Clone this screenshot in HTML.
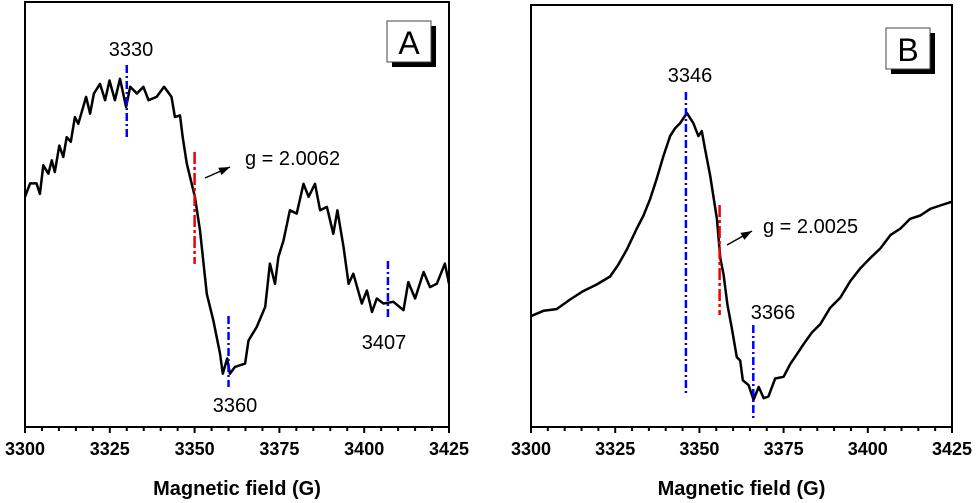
<!DOCTYPE html>
<html><head><meta charset="utf-8"><style>
body{margin:0;background:#fff;width:979px;height:503px;overflow:hidden}
svg{display:block;font-family:"Liberation Sans",Arial,sans-serif}
</style></head><body>
<svg id="c" width="979" height="503" xmlns="http://www.w3.org/2000/svg"></svg>
<script>
const ticksX=[3300,3325,3350,3375,3400,3425];
const fieldA=[3300,3301.5,3303.4,3304.4,3305.4,3306.9,3307.9,3308.8,3310.1,3311.3,3312.3,3313.5,3314.7,3315.7,3318,3319.2,3320.3,3322.1,3323.6,3324.9,3326.5,3328,3329.8,3331,3333,3334.9,3336.4,3338.8,3341,3343.2,3344.2,3345.7,3346.5,3347.7,3350.1,3351.6,3353.6,3355.5,3357.5,3358.3,3359.6,3360.4,3361.9,3364.9,3365.9,3368.3,3370.8,3372.2,3373.7,3374.7,3376.2,3378.1,3380.1,3382.1,3383.6,3385.5,3387,3389,3390.9,3392.1,3393.9,3395.4,3396.8,3399.3,3400.8,3402.3,3403.7,3405.7,3408.6,3411.6,3413,3415,3417.5,3419.4,3421.4,3423.8,3425];
const signalA=[54.8,58,58,55.5,62.3,60.3,63.5,60.7,67,64.3,69,67.9,73.8,72.2,78.6,74.6,79.4,81.7,77.8,82.5,77.8,82.9,76.2,81,79.4,81,77.8,78.6,81,78.6,73.8,74.2,69,62.7,54.8,46.8,31.7,25.4,17.5,12.7,16.3,12.7,14.3,15.1,20.6,23.8,28.6,38.9,34.1,40.5,44.4,51.6,50.8,57.9,54.8,57.9,51.6,52.4,46,51.6,42.9,34.1,36.5,29.4,32.5,27.4,30.6,29.4,29.8,27.8,34.5,30.6,36.9,33.3,34.1,38.9,34.1];
const fieldB=[3300.2,3303.7,3307.6,3311.6,3315.5,3319.5,3323.5,3325.9,3328.4,3331.4,3333.4,3335.4,3337.3,3339.3,3341.3,3342.8,3344.3,3346.3,3348.2,3349.7,3350.7,3351.7,3353.2,3355.2,3356.2,3357.2,3358.3,3359.6,3361.1,3362.1,3362.9,3364.6,3366.1,3367.6,3369.1,3370.5,3372.5,3375,3377,3379,3381,3383.4,3385.9,3388.8,3391.8,3394.8,3397.8,3400.7,3403.7,3406.7,3409.7,3412.6,3415.6,3418.6,3421.5,3425];
const signalB=[26.6,27.8,28.2,30.5,32.5,34.1,36,38.8,42.4,47.5,50.6,54.6,59.3,64.8,69.6,71.5,72.7,75.1,72.7,69.6,70.8,66.4,60.1,49.8,40.4,36.4,29.3,23.8,16.7,15.9,11.2,10,6.5,9.6,6.9,7.3,11.6,12,15.1,17.5,19.9,22.6,24.6,28.5,30.9,34.9,38,40.4,42.7,45.9,47.5,49.8,50.6,52.2,53,53.9];
const NS="http://www.w3.org/2000/svg";
const svg=document.getElementById('c');
function mk(t,a,p){const e=document.createElementNS(NS,t);for(const k in a)e.setAttribute(k,a[k]);(p||svg).appendChild(e);return e;}
function panel(P){
  const g=mk('g',{});
  
  
  const sx=f=>P.x0+(f-3300)/125*(P.x1-P.x0);
  const sy=v=>P.yb-v/100*(P.yb-P.yt);
  const fr=mk('rect',{x:P.x0,y:P.yt0,width:P.x1-P.x0,height:P.yb-P.yt0,fill:'none',stroke:'#000','stroke-width':2},g);
  
  
  for(let f=3300;f<=3425;f+=5){
    const maj=ticksX.includes(f);
    const t=mk('line',{x1:sx(f),x2:sx(f),y1:P.yb,y2:P.yb+(maj?6:4),stroke:'#000','stroke-width':2},g);
    
    
  }
  ticksX.forEach(f=>{
    const t=mk('text',{x:sx(f),y:455,'text-anchor':'middle','font-size':18,'font-weight':'bold'},g);
    t.textContent=f;
    
    
  });
  const xt=mk('text',{x:(P.x0+P.x1)/2,y:495,'text-anchor':'middle','font-size':20,'font-weight':'bold'},g);
  xt.textContent='Magnetic field (G)';
  
  
  const d=P.f.map((f,i)=>(i?'L':'M')+sx(f).toFixed(1)+','+sy(P.s[i]).toFixed(1)).join('');
  const ln=mk('path',{d:d,fill:'none',stroke:'#000','stroke-width':2.5,'stroke-linejoin':'round'},g);
  
  
  P.marks.forEach(m=>{
    const l=mk('line',{x1:sx(m.f),x2:sx(m.f),y1:m.y1,y2:m.y2,stroke:m.c,'stroke-width':2.5,'stroke-dasharray':m.c=='#e00'?'12,3,3,3':'8,3,2,3'},g);
    
    
    if(m.t){const t=mk('text',{x:m.tx,y:m.ty,'text-anchor':'middle','font-size':20},g);t.textContent=m.t;
      
      }
  });
  const a=P.arrow;
  const al=mk('line',{x1:a[0],y1:a[1],x2:a[2],y2:a[3],stroke:'#000','stroke-width':1.5},g);
  
  
  const ang=Math.atan2(a[3]-a[1],a[2]-a[0]);
  const hx=a[2],hy=a[3];
  const p1=[hx-11*Math.cos(ang)+4*Math.sin(ang),hy-11*Math.sin(ang)-4*Math.cos(ang)];
  const p2=[hx-11*Math.cos(ang)-4*Math.sin(ang),hy-11*Math.sin(ang)+4*Math.cos(ang)];
  const ah=mk('polygon',{points:`${hx},${hy} ${p1} ${p2}`,fill:'#000'},g);
  
  
  const gt=mk('text',{x:P.g[0],y:P.g[1],'font-size':20},g);
  gt.textContent=P.g[2];
  
  
  const b=P.box;
  mk('rect',{x:b[0]+5,y:b[1]+5,width:44,height:41,fill:'#000'},g);
  const br=mk('rect',{x:b[0],y:b[1],width:44,height:41,fill:'#fff',stroke:'#444','stroke-width':1},g);
  
  
  const bt=mk('text',{x:b[0]+22,y:b[1]+33,'text-anchor':'middle','font-size':32},g);
  bt.textContent=P.id;
  
  
}
panel({id:'A',x0:25,x1:449,yt0:2,yt:7,yb:427,f:fieldA,s:signalA,
  marks:[{f:3330,y1:65,y2:137,c:'#00f',t:'3330',tx:131,ty:56},
         {f:3350,y1:152,y2:264,c:'#e00'},
         {f:3360,y1:316,y2:387,c:'#00f',t:'3360',tx:235,ty:412},
         {f:3407,y1:261,y2:320,c:'#00f',t:'3407',tx:384,ty:349}],
  arrow:[205,178,230,167],g:[245,165,'g = 2.0062'],box:[387,21]});
panel({id:'B',x0:531,x1:952,yt0:5,yt:9,yb:427,f:fieldB,s:signalB,
  marks:[{f:3346,y1:92,y2:393,c:'#00f',t:'3346',tx:690,ty:82},
         {f:3356,y1:205,y2:315,c:'#e00'},
         {f:3366,y1:325,y2:420,c:'#00f',t:'3366',tx:773,ty:319}],
  arrow:[727,245,752,231],g:[763,233,'g = 2.0025'],box:[886,28]});
</script>
</body></html>
